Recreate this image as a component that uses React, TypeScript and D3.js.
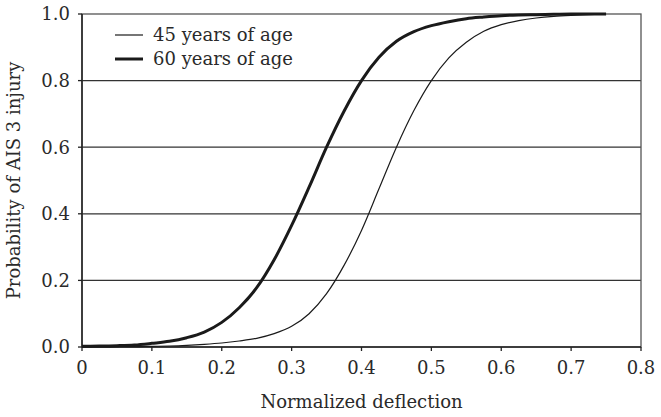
import React from "react";
import * as d3 from "d3";

const xs = [0, 0.025, 0.05, 0.075, 0.1, 0.125, 0.15, 0.175, 0.2, 0.225, 0.25, 0.275, 0.3, 0.325, 0.35, 0.375, 0.4, 0.425, 0.45, 0.475, 0.5, 0.525, 0.55, 0.575, 0.6, 0.625, 0.65, 0.675, 0.7, 0.725, 0.75];
const age45 = [0.0, 0.0, 0.001, 0.001, 0.002, 0.003, 0.005, 0.008, 0.012, 0.018, 0.026, 0.04, 0.062, 0.1, 0.16, 0.245, 0.35, 0.475, 0.6, 0.71, 0.8, 0.868, 0.915, 0.948, 0.968, 0.98, 0.988, 0.993, 0.996, 0.998, 1.0];
const age60 = [0.002, 0.003, 0.004, 0.006, 0.011, 0.017, 0.028, 0.045, 0.074, 0.118, 0.178, 0.262, 0.365, 0.48, 0.6, 0.708, 0.8, 0.87, 0.918, 0.947, 0.965, 0.977, 0.986, 0.991, 0.995, 0.997, 0.998, 0.999, 1.0, 1.0, 1.0];
const xTicks = [0, 0.1, 0.2, 0.3, 0.4, 0.5, 0.6, 0.7, 0.8];
const yTicks = [0, 0.2, 0.4, 0.6, 0.8, 1.0];
const seriesNames = ["45 years of age", "60 years of age"];

export default function App() {
  const W = 661, H = 417;
  const L = 82, R = 641, T = 14, B = 347;
  const x = d3.scaleLinear().domain([0, 0.8]).range([L, R]);
  const y = d3.scaleLinear().domain([0, 1]).range([B, T]);
  const line = d3.line<number>().x((_, i) => x(xs[i])).y((d) => y(d)).curve(d3.curveMonotoneX);
  const fg = "#2a2a2a";
  const fs = 18;
  const ff = "'DejaVu Serif', 'Liberation Serif', serif";
  return (
    <svg width={W} height={H} style={{ position: "absolute", left: 0, top: 0, background: "#fff" }}>
      <rect x={0} y={0} width={W} height={H} fill="#fff" />
      {yTicks.filter((t) => t > 0 && t < 1).map((t) => (
        <line key={t} x1={L} x2={R} y1={y(t)} y2={y(t)} stroke="#333" strokeWidth={1.3} />
      ))}
      <rect x={L} y={T} width={R - L} height={B - T} fill="none" stroke="#555" strokeWidth={1.3} />
      <line x1={L} x2={L} y1={T} y2={B} stroke="#222" strokeWidth={1.5} />
      <line x1={L} x2={R} y1={B} y2={B} stroke="#222" strokeWidth={1.5} />
      {yTicks.map((t) => (
        <g key={t}>
          <line x1={L - 4} x2={L} y1={y(t)} y2={y(t)} stroke="#222" strokeWidth={1.3} />
          <text x={L - 12} y={y(t)} dy="0.35em" textAnchor="end" fontSize={fs} fill={fg} style={{ fontFamily: ff }}>{t.toFixed(1)}</text>
        </g>
      ))}
      {xTicks.map((t) => (
        <g key={t}>
          <line x1={x(t)} x2={x(t)} y1={B} y2={B + 4} stroke="#222" strokeWidth={1.3} />
          <text x={x(t)} y={B + 27} textAnchor="middle" fontSize={fs} fill={fg} style={{ fontFamily: ff }}>{t === 0 ? "0" : t.toFixed(1)}</text>
        </g>
      ))}
      <path d={line(age45) || ""} fill="none" stroke="#1a1a1a" strokeWidth={1.2} />
      <path d={line(age60) || ""} fill="none" stroke="#1a1a1a" strokeWidth={3} />
      <g>
        <line x1={115} x2={143} y1={35} y2={35} stroke="#1a1a1a" strokeWidth={1.2} />
        <text x={153} y={35} dy="0.35em" fontSize={fs} fill={fg} style={{ fontFamily: ff }}>{seriesNames[0]}</text>
        <line x1={115} x2={143} y1={59} y2={59} stroke="#1a1a1a" strokeWidth={3} />
        <text x={153} y={59} dy="0.35em" fontSize={fs} fill={fg} style={{ fontFamily: ff }}>{seriesNames[1]}</text>
      </g>
      <text x={(L + R) / 2} y={408} textAnchor="middle" fontSize={fs} fill={fg} style={{ fontFamily: ff }}>Normalized deflection</text>
      <text transform={`translate(20, ${(T + B) / 2}) rotate(-90)`} textAnchor="middle" fontSize={fs} fill={fg} style={{ fontFamily: ff }}>Probability of AIS 3 injury</text>
    </svg>
  );
}
